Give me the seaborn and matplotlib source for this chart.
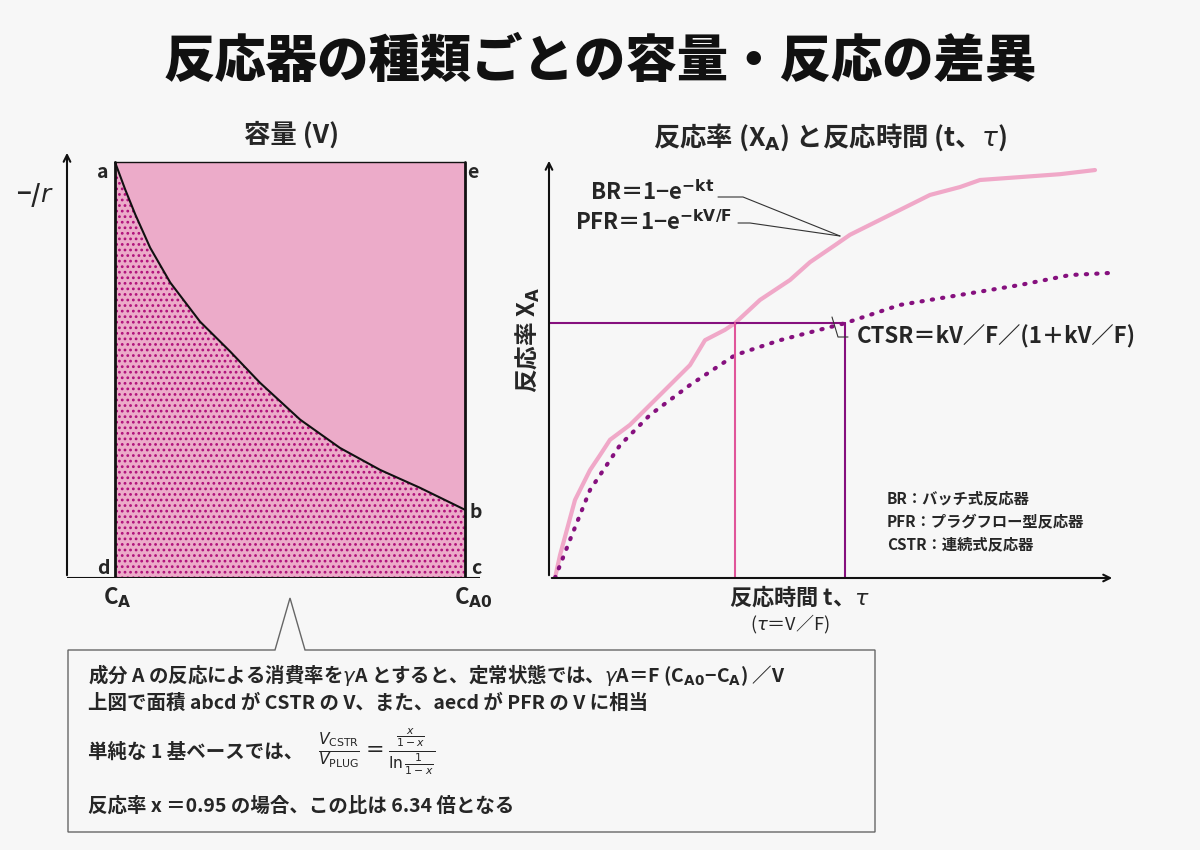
import numpy as np
import seaborn as sns
import matplotlib.pyplot as plt
from matplotlib.patches import Polygon

# left chart: concentration vs -1/r
conc = [0.2, 0.223, 0.246, 0.28, 0.326, 0.394, 0.463, 0.531, 0.623, 0.714, 0.806, 0.897, 1.0]
inv_rate = [10.0, 9.35, 8.75, 7.95, 7.11, 6.17, 5.45, 4.70, 3.81, 3.13, 2.60, 2.17, 1.64]

# right chart: conversion vs time
t_br = [0.06, 0.11, 0.26, 0.41, 0.51, 0.61, 0.81, 1.01, 1.21, 1.41, 1.56, 1.76, 1.86,
        2.11, 2.41, 2.61, 2.86, 3.01, 3.21, 3.51, 3.81, 4.11, 4.31, 4.71, 5.11, 5.46]
x_br = [0.0, 0.055, 0.188, 0.26, 0.296, 0.333, 0.369, 0.417, 0.465, 0.513, 0.573, 0.598, 0.614,
        0.67, 0.718, 0.761, 0.802, 0.827, 0.851, 0.887, 0.923, 0.942, 0.959, 0.966, 0.973, 0.983]
t_cstr = [0.06, 0.21, 0.41, 0.71, 1.01, 1.41, 1.86, 2.31, 2.96, 3.51, 4.11, 4.71, 5.21, 5.61]
x_cstr = [0.0, 0.092, 0.212, 0.32, 0.393, 0.465, 0.537, 0.573, 0.614, 0.658, 0.682, 0.706, 0.73, 0.735]
x_target = 0.614
t_br_target, t_cstr_target = 1.86, 2.96

BG = "#f7f7f7"
PINK = "#ecabc9"
MAG = "#b0107a"
PURPLE = "#86107e"
LINE_PINK = "#f0a8c8"

sns.set_theme(style="white")
plt.rcParams["font.family"] = ["Noto Sans CJK JP", "DejaVu Sans"]
plt.rcParams["hatch.linewidth"] = 1.2

W, H = 1200, 850
fig = plt.figure(figsize=(12, 8.5), dpi=100, facecolor=BG)


def px(x, y):
    return x / W, 1 - y / H


def add_ax(x0, y0, x1, y1):
    ax = fig.add_axes([x0 / W, 1 - y1 / H, (x1 - x0) / W, (y1 - y0) / H])
    ax.set_facecolor("none")
    ax.axis("off")
    return ax


fig.text(*px(600, 62), "反応器の種類ごとの容量・反応の差異", ha="center", va="center",
         fontsize=37, fontweight="black", color="#111")

# ---- left chart
axl = add_ax(67, 150, 480, 578)
axl.set_xlim(0.09, 1.034)
axl.set_ylim(0, 10.3)
c = np.array(conc)
r = np.array(inv_rate)
top = inv_rate[0]
axl.fill_between([c[0], c[-1]], 0, top, color=PINK, lw=0)
axl.fill_between(c, 0, r, facecolor=PINK, edgecolor=MAG, hatch="...", lw=0)
sns.lineplot(x=conc, y=inv_rate, ax=axl, color="#111", lw=1.5, estimator=None, sort=False)
axl.plot([c[0], c[0], c[-1], c[-1]], [top, 0, 0, top], color="#111", lw=2)
axl.plot([c[0], c[-1]], [top, top], color="#111", lw=1)
axl.annotate("", xy=(0.09, 10.3), xytext=(0.09, 0),
             arrowprops=dict(arrowstyle="->", lw=1.5, color="#111"))
axl.plot([0.09, 1.034], [0, 0], color="#111", lw=1.5)
fs = 14
for txt, (x, y) in {"a": (103, 172), "e": (473, 172), "b": (476, 513), "c": (476, 568),
                    "d": (103, 568)}.items():
    fig.text(*px(x, y), txt, ha="center", va="center", fontsize=fs, fontweight="bold")
fig.text(*px(117, 598), "C$_\\mathbf{A}$", ha="center", va="center", fontsize=16, fontweight="bold")
fig.text(*px(473, 598), "C$_\\mathbf{A0}$", ha="center", va="center", fontsize=16, fontweight="bold")
fig.text(*px(35, 195), "−/$\\mathit{r}$", ha="center", va="center", fontsize=18, fontweight="bold")
fig.text(*px(292, 135), "容量 (V)", ha="center", va="center", fontsize=19, fontweight="bold")

# ---- right chart
axr = add_ax(549, 158, 1115, 578)
axr.set_xlim(0, 5.66)
axr.set_ylim(0, 1.012)
sns.lineplot(x=t_br, y=x_br, ax=axr, color=LINE_PINK, lw=3, estimator=None, sort=False)
sns.lineplot(x=t_cstr, y=x_cstr, ax=axr, color=PURPLE, lw=3, ls=(0, (0.3, 2.2)),
             dash_capstyle="round", estimator=None, sort=False)
axr.plot([0, t_cstr_target], [x_target, x_target], color=PURPLE, lw=1.5)
axr.plot([t_br_target, t_br_target], [0, x_target], color="#e0559a", lw=1.5)
axr.plot([t_cstr_target, t_cstr_target], [0, x_target], color=PURPLE, lw=1.5)
axr.annotate("", xy=(0, 1.012), xytext=(0, 0),
             arrowprops=dict(arrowstyle="->", lw=1.5, color="#111"))
axr.annotate("", xy=(5.66, 0), xytext=(0, 0),
             arrowprops=dict(arrowstyle="->", lw=1.5, color="#111"))

fig.text(*px(830, 137), "反応率 (X$_\\mathbf{A}$) と反応時間 (t、$\\mathit{τ}$)", ha="center",
         va="center", fontsize=19, fontweight="bold")
fig.text(*px(528, 340), "反応率 X$_\\mathbf{A}$", ha="center", va="center", fontsize=17,
         fontweight="bold", rotation=90)
fig.text(*px(800, 597), "反応時間 t、$\\mathit{τ}$", ha="center", va="center", fontsize=16,
         fontweight="bold")
fig.text(*px(790, 624), "($\\mathit{τ}$＝V／F)", ha="center", va="center", fontsize=13)
fig.text(*px(590, 193), "BR＝1−e$^{\\mathbf{-kt}}$", ha="left", va="center", fontsize=16,
         fontweight="bold")
fig.text(*px(575, 223), "PFR＝1−e$^{\\mathbf{-kV/F}}$", ha="left", va="center", fontsize=16,
         fontweight="bold")
fig.add_artist(plt.Line2D([718 / W, 743 / W, 840 / W], [1 - 197 / H, 1 - 197 / H, 1 - 236 / H],
                          color="#333", lw=0.8))
fig.add_artist(plt.Line2D([738 / W, 750 / W, 840 / W], [1 - 223 / H, 1 - 223 / H, 1 - 236 / H],
                          color="#333", lw=0.8))
fig.add_artist(plt.Line2D([832 / W, 838 / W, 848 / W], [1 - 317 / H, 1 - 337 / H, 1 - 337 / H],
                          color="#333", lw=0.8))
fig.text(*px(857, 337), "CTSR＝kV／F／(1＋kV／F)", ha="left", va="center", fontsize=16,
         fontweight="bold")
for i, txt in enumerate(["BR：バッチ式反応器", "PFR：プラグフロー型反応器", "CSTR：連続式反応器"]):
    fig.text(*px(887, 498 + i * 23), txt, ha="left", va="center", fontsize=11, fontweight="bold")

# ---- note box with callout
box = Polygon([px(68, 650), px(275, 650), px(290, 598), px(305, 650), px(875, 650),
               px(875, 832), px(68, 832)], closed=True, transform=fig.transFigure,
              facecolor=BG, edgecolor="#666", lw=1)
fig.add_artist(box)
tf = 14
fig.text(*px(88, 675), "成分 A の反応による消費率を$\\mathit{γ}$A とすると、定常状態では、"
         "$\\mathit{γ}$A＝F (C$_\\mathbf{A0}$−C$_\\mathbf{A}$) ／V",
         ha="left", va="center", fontsize=tf, fontweight="bold")
fig.text(*px(88, 703), "上図で面積 abcd が CSTR の V、また、aecd が PFR の V に相当",
         ha="left", va="center", fontsize=tf, fontweight="bold")
fig.text(*px(88, 752), "単純な 1 基ベースでは、", ha="left", va="center", fontsize=tf,
         fontweight="bold")
fig.text(*px(318, 752),
         r"$\frac{V_{\mathrm{CSTR}}}{V_{\mathrm{PLUG}}} = \frac{\frac{x}{1-x}}{\ln\frac{1}{1-x}}$",
         ha="left", va="center", fontsize=16)
fig.text(*px(88, 806), "反応率 x ＝0.95 の場合、この比は 6.34 倍となる", ha="left",
         va="center", fontsize=tf, fontweight="bold")

fig.savefig("out.png", dpi=100, facecolor=BG)
